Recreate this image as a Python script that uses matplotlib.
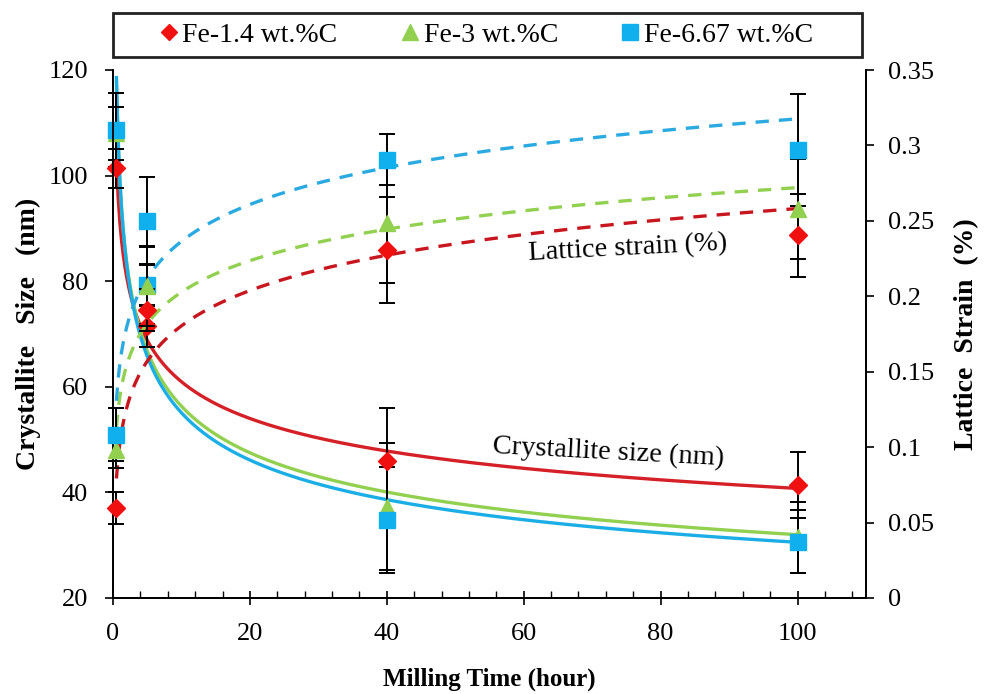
import numpy as np
import matplotlib
matplotlib.use("Agg")
import matplotlib.pyplot as plt
from matplotlib.patches import Rectangle
from matplotlib.lines import Line2D
from matplotlib.ticker import MultipleLocator

# ---------------- data ----------------
time_h = [0.5, 5, 40, 100]
series = ["Fe-1.4 wt.%C", "Fe-3 wt.%C", "Fe-6.67 wt.%C"]

size_fe14 = [101.4, 71.5, 46.0, 41.4]
size_fe3 = [108.0, 79.3, 37.3, 31.5]
size_fe667 = [108.6, 79.3, 34.8, 30.7]
size_err_fe14 = [3.7, 4.0, 10.0, 6.3]
size_err_fe3 = [5.0, 7.4, 12.0, 6.7]
size_err_fe667 = [7.0, 4.0, 10.0, 6.0]

strain_fe14 = [0.0595, 0.1908, 0.2307, 0.2406]
strain_fe3 = [0.098, 0.2065, 0.2485, 0.258]
strain_fe667 = [0.1083, 0.250, 0.2905, 0.2968]
strain_err_fe14 = [0.0105, 0.014, 0.035, 0.0275]
strain_err_fe3 = [0.012, 0.026, 0.04, 0.033]
strain_err_fe667 = [0.0175, 0.029, 0.017, 0.037]

x_ticks = [0, 20, 40, 60, 80, 100]
size_ticks = [20, 40, 60, 80, 100, 120]
strain_ticks = [0, 0.05, 0.1, 0.15, 0.2, 0.25, 0.3, 0.35]
strain_tick_labels = ['0', '0.05', '0.1', '0.15', '0.2', '0.25', '0.3', '0.35']

# ---------------- style ----------------
plt.rcParams['font.family'] = ['Liberation Serif', 'DejaVu Serif']
marker_col = ['#F01010', '#92D050', '#10B0EE']
size_line_col = ['#D42026', '#92D050', '#1BAEE6']
strain_line_col = ['#C8161E', '#92D050', '#2AAAE0']
markers = ['D', '^', 's']
msizes = [9, 12, 12]
TICK_FS = 19

fig = plt.figure(figsize=(9.85, 6.94), dpi=100)
W, H = 985, 694
ax = fig.add_axes([113 / W, 1 - 598 / H, (866 - 113) / W, (598 - 70) / H])
ax2 = ax.twinx()

sizes = [size_fe14, size_fe3, size_fe667]
size_errs = [size_err_fe14, size_err_fe3, size_err_fe667]
strains = [strain_fe14, strain_fe3, strain_fe667]
strain_errs = [strain_err_fe14, strain_err_fe3, strain_err_fe667]

t = np.array(time_h, dtype=float)
xs = np.linspace(t.min(), t.max(), 400)

# power-law trendlines for crystallite size
for i in range(3):
    b, lna = np.polyfit(np.log(t), np.log(sizes[i]), 1)
    ax.plot(xs, np.exp(lna) * xs ** b, color=size_line_col[i], lw=2.4, zorder=2)

# logarithmic trendlines for lattice strain
for i in range(3):
    a, c = np.polyfit(np.log(t), np.array(strains[i]), 1)
    ax2.plot(xs, a * np.log(xs) + c, color=strain_line_col[i], lw=2.4,
             ls=(0, (4, 3)), zorder=2)

# markers + error bars
for i in range(3):
    ax.errorbar(time_h, sizes[i], yerr=size_errs[i], fmt=markers[i],
                ms=msizes[i], mfc=marker_col[i], mec=marker_col[i],
                ecolor='black', elinewidth=1.4, capsize=6, capthick=1.4,
                zorder=3, clip_on=False)
    ax2.errorbar(time_h, strains[i], yerr=strain_errs[i], fmt=markers[i],
                 ms=msizes[i], mfc=marker_col[i], mec=marker_col[i],
                 ecolor='black', elinewidth=1.4, capsize=6, capthick=1.4,
                 zorder=3, clip_on=False)

# axes setup
ax.set_xlim(0, 110)
ax.set_ylim(20, 120)
ax2.set_ylim(0, 0.35)
ax.set_xticks(x_ticks)
ax.xaxis.set_minor_locator(MultipleLocator(4))
ax.set_yticks(size_ticks)
ax2.set_yticks(strain_ticks)
ax2.set_yticklabels(strain_tick_labels)

for a_ in (ax, ax2):
    a_.spines['top'].set_visible(False)
    for s in a_.spines.values():
        s.set_linewidth(1.3)
ax.tick_params(axis='x', which='major', direction='inout', length=10, width=1.2,
               labelsize=TICK_FS, pad=13)
ax.tick_params(axis='x', which='minor', direction='in', length=5, width=1.0)
ax.tick_params(axis='y', direction='out', length=6, width=1.2,
               labelsize=TICK_FS, pad=12)
ax2.tick_params(axis='y', direction='out', length=6, width=1.2,
                labelsize=TICK_FS, pad=10)

ax.set_xlabel('Milling Time (hour)', fontsize=18, fontweight='bold',
              labelpad=16)
ax.set_ylabel('Crystallite   Size   (nm)', fontsize=20, fontweight='bold',
              labelpad=5)
ax2.set_ylabel('Lattice  Strain  (%)', fontsize=20, fontweight='bold',
               labelpad=14)

ax.text(75.2, 86.3, 'Lattice strain (%)', fontsize=20.5, ha='center', va='center',
        rotation=3, zorder=5)
ax.text(72.4, 47.5, 'Crystallite size (nm)', fontsize=20.5, ha='center',
        va='center', rotation=-3, zorder=5)

# legend
handles = [Line2D([], [], ls='none', marker=markers[i], ms=msizes[i] - 1,
                  mfc=marker_col[i], mec=marker_col[i]) for i in range(3)]
fig.patches.append(Rectangle((113 / W, 1 - 57 / H), (862 - 113) / W, 44 / H,
                             transform=fig.transFigure, fill=False,
                             edgecolor='#222222', lw=2))
fig.legend(handles, series, loc='center', bbox_to_anchor=(484 / W, 1 - 35 / H),
           ncol=3, frameon=False, fontsize=20, handletextpad=0.0,
           columnspacing=2.1, handlelength=1.0)

fig.savefig('out.png', dpi=100)
